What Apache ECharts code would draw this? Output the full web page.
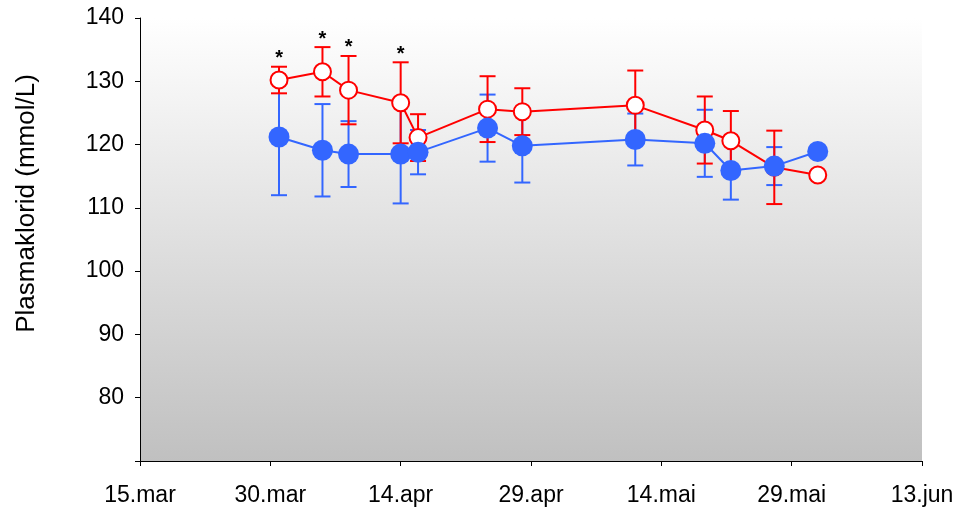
<!DOCTYPE html>
<html><head><meta charset="utf-8">
<script src="https://cdn.jsdelivr.net/npm/echarts@6/dist/echarts.min.js"></script>
<style>html,body{margin:0;padding:0;background:#fff}#c{width:962px;height:510px}</style>
</head><body><div id="c"></div>
<script>
// ---- data ----
const startDate = '2007-03-15';
const dates = ['2007-03-31','2007-04-05','2007-04-08','2007-04-14','2007-04-16','2007-04-24','2007-04-28','2007-05-11','2007-05-19','2007-05-22','2007-05-27','2007-06-01'];
const redValues  = [130.2, 131.5, 128.6, 126.6, 121.1, 125.6, 125.2, 126.2, 122.3, 120.6, 116.4, 115.2];
const redErr     = [2.1, 3.9, 5.4, 6.4, 3.7, 5.2, 3.7, 5.5, 5.3, 4.7, 5.8, null];
const blueValues = [121.2, 119.1, 118.5, 118.5, 118.8, 122.6, 119.8, 120.8, 120.2, 115.9, 116.6, 118.9];
const blueErr    = [9.2, 7.3, 5.2, 7.8, 3.5, 5.3, 5.8, 4.1, 5.3, 4.6, 3.0, null];
const significant = [1, 1, 1, 1, 0, 0, 0, 0, 0, 0, 0, 0];
const xTickLabels = ['15.mar','30.mar','14.apr','29.apr','14.mai','29.mai','13.jun'];
const yAxisTitle = 'Plasmaklorid (mmol/L)';

const DAY = 86400000;
const t0 = Date.parse(startDate);
const xs = dates.map(d => (Date.parse(d) - t0) / DAY);

const RED = '#ff0000', BLUE = '#3366ff';
const FONT = '"Liberation Sans", Arial, sans-serif';

function errData(vals, errs, sig) {
  const out = [];
  vals.forEach((v, i) => {
    if (errs[i] != null) out.push([xs[i], v - errs[i], v + errs[i], sig ? sig[i] : 0]);
  });
  return out;
}
function errRender(color) {
  return function (params, api) {
    const x = api.value(0);
    const lo = api.coord([x, api.value(1)]);
    const hi = api.coord([x, api.value(2)]);
    const hw = 8;
    const st = { stroke: color, lineWidth: 2 };
    const children = [
      { type: 'line', shape: { x1: lo[0], y1: lo[1], x2: hi[0], y2: hi[1] }, style: st },
      { type: 'line', shape: { x1: lo[0] - hw, y1: lo[1], x2: lo[0] + hw, y2: lo[1] }, style: st },
      { type: 'line', shape: { x1: hi[0] - hw, y1: hi[1], x2: hi[0] + hw, y2: hi[1] }, style: st }
    ];
    if (api.value(3)) {
      children.push({ type: 'text', style: { text: '*', x: hi[0], y: hi[1] - 8, align: 'center', verticalAlign: 'middle', fill: '#000', font: 'bold 20px ' + FONT } });
    }
    return { type: 'group', children };
  };
}

const chart = echarts.init(document.getElementById('c'));
chart.setOption({
  animation: false,
  grid: {
    left: 140, right: 40, top: 18, bottom: 49, show: true, borderWidth: 0,
    backgroundColor: new echarts.graphic.LinearGradient(0, 0, 0, 1, [
      { offset: 0, color: '#ffffff' }, { offset: 1, color: '#c0c0c0' }
    ])
  },
  xAxis: {
    type: 'value', min: 0, max: 90, interval: 15,
    axisLine: { lineStyle: { color: '#000', width: 1 } },
    axisTick: { show: true, length: 5, lineStyle: { color: '#000' } },
    splitLine: { show: false },
    axisLabel: { color: '#000', fontSize: 23, fontFamily: FONT, margin: 23,
      formatter: v => xTickLabels[Math.round(v / 15)] }
  },
  yAxis: {
    type: 'value', min: 70, max: 140, interval: 10,
    name: yAxisTitle, nameLocation: 'middle', nameGap: 100,
    nameTextStyle: { color: '#000', fontSize: 26, fontFamily: FONT, padding: [0, 0, 0, 72] },
    axisLine: { show: true, lineStyle: { color: '#000', width: 1 } },
    axisTick: { show: true, length: 5, lineStyle: { color: '#000' } },
    splitLine: { show: false },
    axisLabel: { color: '#000', fontSize: 23, fontFamily: FONT, margin: 16,
      formatter: v => v === 70 ? '' : String(v) }
  },
  series: [
    { type: 'custom', z: 1, renderItem: errRender(BLUE), data: errData(blueValues, blueErr), encode: { x: 0, y: [1, 2] } },
    { type: 'custom', z: 2, renderItem: errRender(RED), data: errData(redValues, redErr, significant), encode: { x: 0, y: [1, 2] } },
    { type: 'line', z: 3, data: xs.map((x, i) => [x, redValues[i]]), symbol: 'circle', symbolSize: 17,
      lineStyle: { color: RED, width: 2 }, itemStyle: { color: '#fff', borderColor: RED, borderWidth: 2 } },
    { type: 'line', z: 4, data: xs.map((x, i) => [x, blueValues[i]]), symbol: 'circle', symbolSize: 21,
      lineStyle: { color: BLUE, width: 2 }, itemStyle: { color: BLUE, borderWidth: 0 } }
  ]
});
</script></body></html>
